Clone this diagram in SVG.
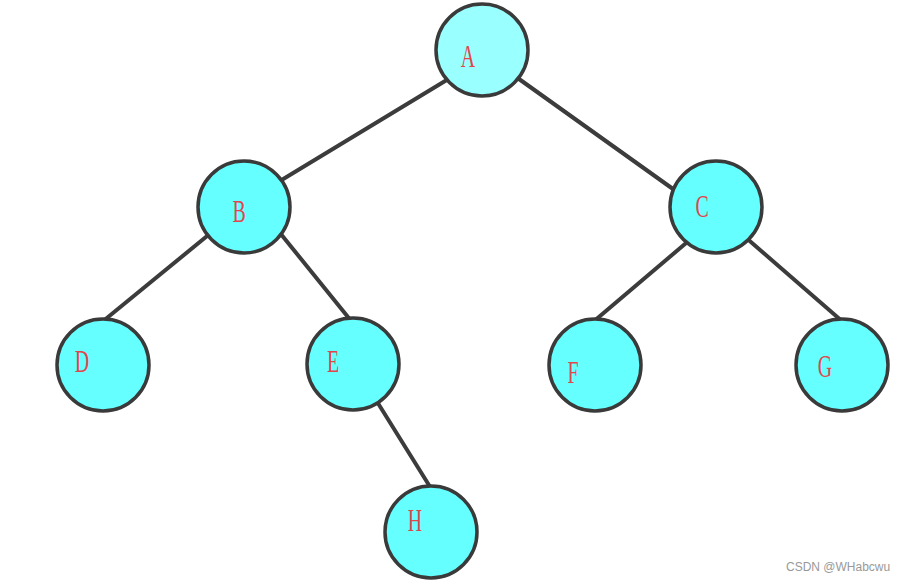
<svg xmlns="http://www.w3.org/2000/svg" width="905" height="581" viewBox="0 0 905 581">
<style>
.edge{stroke:#3c3c3c;stroke-width:4;stroke-linecap:round;fill:none}
.node{fill:#66ffff;stroke:#3a3a3a;stroke-width:3.5}
.root{fill:#99ffff}
.lbl{font-family:"Liberation Serif","DejaVu Serif",serif;font-size:32px;fill:#e0474c;text-anchor:middle}
.wm{font-family:"Liberation Sans",Arial,sans-serif;font-size:12px;fill:#999999}
</style>
<rect width="905" height="581" fill="#ffffff"/>
<g id="connectors">
<line class="edge" x1="455" y1="75" x2="275" y2="184"/>
<line class="edge" x1="512" y1="74" x2="680" y2="194"/>
<line class="edge" x1="212" y1="232" x2="102" y2="322"/>
<line class="edge" x1="276" y1="228" x2="352" y2="322"/>
<line class="edge" x1="692" y1="238" x2="593" y2="322"/>
<line class="edge" x1="744" y1="236" x2="843" y2="322"/>
<line class="edge" x1="376" y1="400" x2="432" y2="490"/>
</g>
<g id="node-A"><circle class="node root" cx="482" cy="50" r="46"/><text class="lbl" transform="translate(468,67) scale(0.62,1)">A</text></g>
<g id="node-B"><circle class="node" cx="244" cy="207" r="46"/><text class="lbl" transform="translate(239,222) scale(0.62,1)">B</text></g>
<g id="node-C"><circle class="node" cx="716" cy="207" r="46"/><text class="lbl" transform="translate(702,217) scale(0.62,1)">C</text></g>
<g id="node-D"><circle class="node" cx="103" cy="365" r="46"/><text class="lbl" transform="translate(82,372) scale(0.62,1)">D</text></g>
<g id="node-E"><circle class="node" cx="353" cy="364" r="46"/><text class="lbl" transform="translate(333,372) scale(0.62,1)">E</text></g>
<g id="node-F"><circle class="node" cx="595" cy="365" r="46"/><text class="lbl" transform="translate(573,383) scale(0.62,1)">F</text></g>
<g id="node-G"><circle class="node" cx="842" cy="365" r="46"/><text class="lbl" transform="translate(825,377) scale(0.62,1)">G</text></g>
<g id="node-H"><circle class="node" cx="431" cy="532" r="46"/><text class="lbl" transform="translate(415,531) scale(0.62,1)">H</text></g>
<text class="wm" x="786" y="571">CSDN @WHabcwu</text>
</svg>
